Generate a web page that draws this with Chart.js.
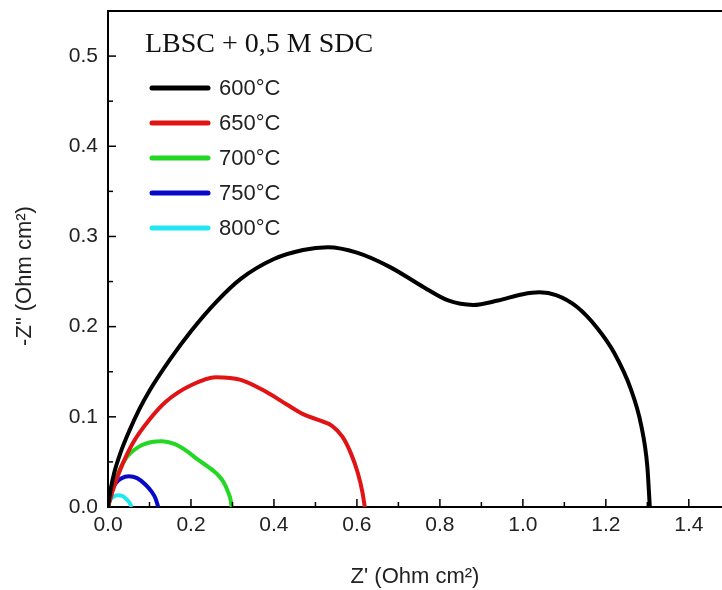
<!DOCTYPE html>
<html>
<head>
<meta charset="utf-8">
<script src="https://cdn.jsdelivr.net/npm/chart.js@4"></script>
<style>
  html, body { margin: 0; padding: 0; background: #fff; }
  #wrap { width: 722px; height: 590px; }
</style>
</head>
<body>
<div id="wrap"><canvas id="chart" width="722" height="590"></canvas></div>
<script>
// Nyquist data: Z' (x) and -Z'' (y), Ohm cm2
const temps = ['600°C', '650°C', '700°C', '750°C', '800°C'];

const re600 = [0, 0.005, 0.015, 0.03, 0.05, 0.075, 0.1, 0.15, 0.2, 0.26, 0.32, 0.4, 0.47, 0.53, 0.6, 0.68, 0.76, 0.82, 0.88, 0.94, 1.0, 1.04, 1.08, 1.13, 1.18, 1.22, 1.26, 1.285, 1.3, 1.306];
const im600 = [0, 0.016, 0.038, 0.06, 0.083, 0.108, 0.129, 0.164, 0.195, 0.227, 0.253, 0.275, 0.285, 0.288, 0.282, 0.266, 0.244, 0.229, 0.224, 0.229, 0.236, 0.238, 0.235, 0.222, 0.198, 0.171, 0.131, 0.091, 0.045, 0];

const re650 = [0, 0.01, 0.03, 0.06, 0.1, 0.14, 0.2, 0.26, 0.32, 0.38, 0.43, 0.47, 0.51, 0.54, 0.565, 0.585, 0.602, 0.613, 0.619];
const im650 = [0, 0.016, 0.042, 0.071, 0.097, 0.117, 0.135, 0.144, 0.141, 0.128, 0.114, 0.103, 0.096, 0.09, 0.078, 0.06, 0.038, 0.017, 0];

const re700 = [0, 0.01, 0.025, 0.045, 0.075, 0.105, 0.13, 0.16, 0.19, 0.215, 0.24, 0.262, 0.278, 0.29, 0.296, 0.298];
const im700 = [0, 0.018, 0.038, 0.055, 0.067, 0.072, 0.073, 0.07, 0.062, 0.053, 0.045, 0.037, 0.028, 0.016, 0.007, 0];

const re750 = [0, 0.006, 0.018, 0.033, 0.05, 0.07, 0.09, 0.105, 0.115, 0.121];
const im750 = [0, 0.014, 0.026, 0.032, 0.034, 0.032, 0.025, 0.017, 0.009, 0];

const re800 = [0, 0.004, 0.012, 0.024, 0.036, 0.046, 0.053, 0.057];
const im800 = [0, 0.007, 0.011, 0.013, 0.012, 0.008, 0.004, 0];

const sampleName = 'LBSC + 0,5 M SDC';
const xTitle = "Z' (Ohm cm²)";
const yTitle = '-Z" (Ohm cm²)';

const lineColors = ['#000000', '#e01414', '#22d822', '#0808c8', '#22e6f2'];

function toPoints(xs, ys) {
  return xs.map((x, i) => ({ x: x, y: ys[i] }));
}

const series = [
  toPoints(re600, im600),
  toPoints(re650, im650),
  toPoints(re700, im700),
  toPoints(re750, im750),
  toPoints(re800, im800)
];

const sansFont = "'Liberation Sans', Arial, sans-serif";

// inward ticks, top frame line, y title and the legend box inside the plot
const decorations = {
  id: 'decorations',
  afterDraw(chart) {
    const ctx = chart.ctx;
    const area = chart.chartArea;
    const xs = chart.scales.x;
    const ys = chart.scales.y;
    ctx.save();
    ctx.strokeStyle = '#000';
    ctx.lineWidth = 2;

    // top frame
    ctx.beginPath();
    ctx.moveTo(area.left - 1, area.top);
    ctx.lineTo(area.right, area.top);
    ctx.stroke();

    // x ticks every 0.1, long on 0.2
    ctx.lineWidth = 1.5;
    for (let i = 1; i * 0.1 < xs.max; i++) {
      const px = xs.getPixelForValue(i * 0.1);
      const len = i % 2 === 0 ? 8 : 5;
      ctx.beginPath();
      ctx.moveTo(px, area.bottom);
      ctx.lineTo(px, area.bottom - len);
      ctx.stroke();
    }
    // y ticks every 0.05, long on 0.1
    for (let i = 1; i * 0.05 < ys.max; i++) {
      const py = ys.getPixelForValue(i * 0.05);
      const len = i % 2 === 0 ? 8 : 5;
      ctx.beginPath();
      ctx.moveTo(area.left, py);
      ctx.lineTo(area.left + len, py);
      ctx.stroke();
    }

    // y axis title
    ctx.fillStyle = '#222';
    ctx.font = '22px ' + sansFont;
    ctx.textAlign = 'center';
    ctx.textBaseline = 'middle';
    ctx.translate(25, 276);
    ctx.rotate(-Math.PI / 2);
    ctx.fillText(yTitle, 0, 0);
    ctx.setTransform(1, 0, 0, 1, 0, 0);

    // sample name
    ctx.fillStyle = '#111';
    ctx.font = "28px 'Liberation Serif', 'Times New Roman', serif";
    ctx.textAlign = 'left';
    ctx.textBaseline = 'alphabetic';
    ctx.fillText(sampleName, 145, 52);

    // legend
    ctx.font = '22px ' + sansFont;
    ctx.textBaseline = 'middle';
    chart.data.datasets.forEach((ds, i) => {
      const y = 88 + i * 35;
      ctx.strokeStyle = ds.borderColor;
      ctx.lineWidth = 5;
      ctx.lineCap = 'round';
      ctx.beginPath();
      ctx.moveTo(152, y);
      ctx.lineTo(208, y);
      ctx.stroke();
      ctx.fillStyle = '#222';
      ctx.fillText(ds.label, 219, y + 1);
    });
    ctx.restore();
  }
};

const ctx = document.getElementById('chart').getContext('2d');
const chart = new Chart(ctx, {
  type: 'line',
  data: {
    datasets: series.map((pts, i) => ({
      label: temps[i],
      data: pts,
      borderColor: lineColors[i],
      backgroundColor: lineColors[i],
      borderWidth: 4,
      pointRadius: 0,
      fill: false,
      cubicInterpolationMode: 'monotone'
    }))
  },
  options: {
    responsive: false,
    animation: false,
    layout: { padding: { top: 11, right: 0, left: 0, bottom: 0 } },
    plugins: {
      legend: { display: false },
      tooltip: { enabled: false }
    },
    scales: {
      x: {
        type: 'linear',
        min: 0,
        max: 1.48,
        afterFit(scale) {
          scale.height = 83;
          scale.paddingLeft = 0;
          scale.paddingRight = 0;
        },
        border: { display: true, color: '#000', width: 2 },
        grid: { display: true, drawOnChartArea: false, drawTicks: false },
        ticks: {
          stepSize: 0.2,
          includeBounds: false,
          padding: 6,
          color: '#222',
          font: { family: sansFont, size: 21 },
          maxRotation: 0,
          callback: v => v.toFixed(1)
        },
        title: {
          display: true,
          text: xTitle,
          color: '#222',
          font: { family: sansFont, size: 22 },
          padding: { top: 0, bottom: 0 }
        }
      },
      y: {
        type: 'linear',
        min: 0,
        max: 0.55,
        afterFit(scale) {
          scale.width = 108;
          scale.paddingTop = 0;
          scale.paddingBottom = 0;
        },
        border: { display: true, color: '#000', width: 2 },
        grid: { display: true, drawOnChartArea: false, drawTicks: false },
        ticks: {
          stepSize: 0.1,
          includeBounds: false,
          padding: 10,
          color: '#222',
          font: { family: sansFont, size: 21 },
          callback: v => v.toFixed(1)
        }
      }
    }
  },
  plugins: [decorations]
});
</script>
</body>
</html>
